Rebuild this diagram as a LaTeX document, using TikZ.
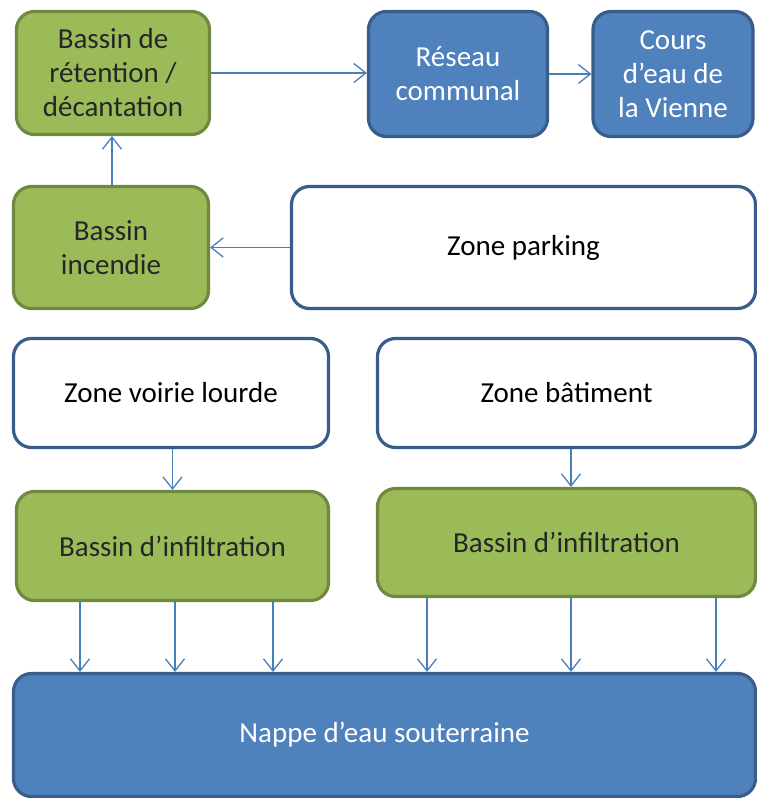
\documentclass[tikz,border=0pt]{standalone}
\usepackage{fontspec}
\setmainfont{Carlito}
\usetikzlibrary{arrows.meta}
\definecolor{gfill}{HTML}{9BBB59}
\definecolor{gline}{HTML}{71893F}
\definecolor{bfill}{HTML}{4F81BD}
\definecolor{bline}{HTML}{385D8A}
\definecolor{arrc}{HTML}{4A7EBB}
\tikzset{
  box/.style={rectangle, rounded corners=18pt, line width=3.2pt, inner sep=2pt,
    font=\fontsize{29}{34}\selectfont, align=center},
  greenbox/.style={box, fill=gfill, draw=gline, text=black!85},
  bluebox/.style={box, fill=bfill, draw=bline, text=white},
  whitebox/.style={box, fill=white, draw=bline, text=black},
  arr/.style={draw=arrc, line width=1.3pt, -{Straight Barb[length=12pt,width=19pt,line width=1.3pt]}},
}
\begin{document}
\begin{tikzpicture}[x=1pt,y=-1pt]
\useasboundingbox (0,0) rectangle (757,798);
\node[greenbox, minimum width=193pt, minimum height=123pt] (ret) at (113,73) {Bassin de\\rétention /\\décantation};
\node[bluebox, minimum width=179pt, minimum height=125pt] (res) at (458,74) {Réseau\\communal};
\node[bluebox, minimum width=160pt, minimum height=125pt] (cours) at (673,74) {Cours\\d’eau de\\la Vienne};
\node[greenbox, minimum width=195pt, minimum height=122pt] (inc) at (111,247.5) {Bassin\\incendie};
\node[whitebox, minimum width=464pt, minimum height=122pt] (park) at (523.5,247.5) {Zone parking};
\node[whitebox, minimum width=315pt, minimum height=109pt] (voirie) at (171,393) {Zone voirie lourde};
\node[whitebox, minimum width=378pt, minimum height=109pt] (bat) at (566.5,393) {Zone bâtiment};
\node[greenbox, minimum width=312pt, minimum height=109pt] (infL) at (172.5,546) {Bassin d’infiltration};
\node[greenbox, minimum width=378pt, minimum height=108pt] (infR) at (566.5,542.5) {Bassin d’infiltration};
\node[bluebox, minimum width=742pt, minimum height=123pt] (nappe) at (384.5,735) {Nappe d’eau souterraine};

\coordinate (c1) at (80,0);
\coordinate (c2) at (175,0);
\coordinate (c3) at (273,0);
\coordinate (c4) at (427,0);
\coordinate (c5) at (571,0);
\coordinate (c6) at (716,0);
\coordinate (c7) at (112,0);

\draw[arr] (ret.east) -- (ret.east -| res.west);
\draw[arr] (res.east) -- (res.east -| cours.west);
\draw[arr] (park.west) -- (park.west -| inc.east);
\draw[arr] (inc.north -| c7) -- (ret.south -| c7);
\draw[arr] (voirie.south -| infL.north) -- (infL.north);
\draw[arr] (bat.south -| c5) -- (infR.north -| c5);
\foreach \c in {c1,c2,c3} \draw[arr] (infL.south -| \c) -- (nappe.north -| \c);
\foreach \c in {c4,c5,c6} \draw[arr] (infR.south -| \c) -- (nappe.north -| \c);
\end{tikzpicture}
\end{document}
